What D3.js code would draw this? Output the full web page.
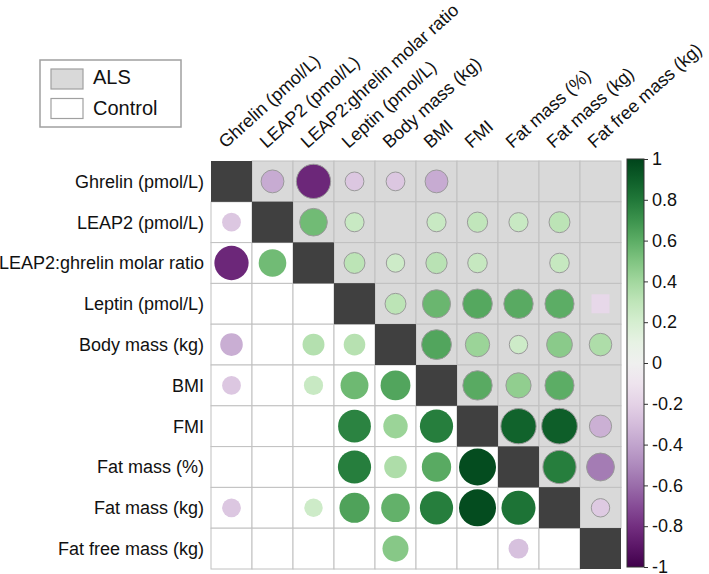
<!DOCTYPE html>
<html>
<head>
<meta charset="utf-8">
<script src="https://cdn.jsdelivr.net/npm/d3@7"></script>
<style>
  html, body { margin: 0; padding: 0; background: #fff; }
  svg { display: block; font-family: "Liberation Sans", Arial, sans-serif; }
</style>
</head>
<body>
<svg id="chart" width="709" height="574"></svg>
<script>
// ---- data ----
const variables = [
  "Ghrelin (pmol/L)", "LEAP2 (pmol/L)", "LEAP2:ghrelin molar ratio",
  "Leptin (pmol/L)", "Body mass (kg)", "BMI", "FMI",
  "Fat mass (%)", "Fat mass (kg)", "Fat free mass (kg)"
];
// upper triangle = ALS, lower triangle = Control; null = not shown
const corrRow0 = [1, -0.37, -0.83, -0.25, -0.25, -0.37, null, null, null, null];
const corrRow1 = [-0.25, 1, 0.54, 0.26, null, 0.26, 0.29, 0.26, 0.31, null];
const corrRow2 = [-0.83, 0.54, 1, 0.31, 0.24, 0.32, 0.27, null, 0.27, null];
const corrRow3 = [null, null, null, 1, 0.31, 0.56, 0.62, 0.61, 0.60, -0.17];
const corrRow4 = [-0.36, null, 0.34, 0.33, 1, 0.63, 0.42, 0.24, 0.47, 0.36];
const corrRow5 = [-0.25, null, 0.26, 0.55, 0.63, 1, 0.61, 0.45, 0.60, null];
const corrRow6 = [null, null, null, 0.76, 0.42, 0.78, 1, 0.88, 0.90, -0.35];
const corrRow7 = [null, null, null, 0.78, 0.36, 0.61, 0.97, 1, 0.78, -0.55];
const corrRow8 = [-0.25, null, 0.24, 0.64, 0.58, 0.78, 0.97, 0.82, 1, -0.24];
const corrRow9 = [null, null, null, null, 0.48, null, null, -0.28, null, 1];
const corrMatrix = [corrRow0, corrRow1, corrRow2, corrRow3, corrRow4,
                    corrRow5, corrRow6, corrRow7, corrRow8, corrRow9];
// cells drawn with a square marker instead of a circle [row, col]
const squareCells = [[3, 9]];
const colorTicks = [1, 0.8, 0.6, 0.4, 0.2, 0, -0.2, -0.4, -0.6, -0.8, -1];
const legendItems = ["ALS", "Control"];

// ---- layout ----
const svg = d3.select("#chart");
const gridLeft = 211, gridRight = 621, gridTop = 161, gridBottom = 569;

const x = d3.scaleBand().domain(variables).range([gridLeft, gridRight]);
const y = d3.scaleBand().domain(variables).range([gridTop, gridBottom]);
const color = v => d3.interpolatePRGn((v + 1) / 2);
const radius = d3.scaleSqrt().domain([0, 1]).range([0, 18.8]);

const cells = [];
corrMatrix.forEach((row, i) => row.forEach((v, j) => {
  cells.push({ i, j, v, row: variables[i], col: variables[j] });
}));

// cell backgrounds
svg.append("g").selectAll("rect")
  .data(cells)
  .join("rect")
  .attr("x", d => x(d.col))
  .attr("y", d => y(d.row))
  .attr("width", x.bandwidth())
  .attr("height", y.bandwidth())
  .attr("fill", d => d.i === d.j ? "#404040" : (d.j > d.i ? "#d9d9d9" : "#ffffff"))
  .attr("stroke", d => d.i === d.j ? "none" : "#c0c0c0")
  .attr("stroke-width", 1);

// redraw diagonal on top so grid lines don't cross it
svg.append("g").selectAll("rect")
  .data(cells.filter(d => d.i === d.j))
  .join("rect")
  .attr("x", d => x(d.col))
  .attr("y", d => y(d.row))
  .attr("width", x.bandwidth())
  .attr("height", y.bandwidth())
  .attr("fill", "#404040");

const isSquare = d => squareCells.some(s => s[0] === d.i && s[1] === d.j);
const marks = cells.filter(d => d.i !== d.j && d.v !== null);

// circles
svg.append("g").selectAll("circle")
  .data(marks.filter(d => !isSquare(d)))
  .join("circle")
  .attr("cx", d => x(d.col) + x.bandwidth() / 2)
  .attr("cy", d => y(d.row) + y.bandwidth() / 2)
  .attr("r", d => radius(Math.abs(d.v)))
  .attr("fill", d => color(d.v))
  .attr("stroke", d => d.j > d.i ? "#9a9a9a" : "none")
  .attr("stroke-width", 1);

// square markers
svg.append("g").selectAll("rect")
  .data(marks.filter(isSquare))
  .join("rect")
  .attr("x", d => x(d.col) + x.bandwidth() / 2 - 9)
  .attr("y", d => y(d.row) + y.bandwidth() / 2 - 9.5)
  .attr("width", 18)
  .attr("height", 19)
  .attr("fill", d => color(d.v));

// row labels
svg.append("g").selectAll("text")
  .data(variables)
  .join("text")
  .attr("x", gridLeft - 7)
  .attr("y", d => y(d) + y.bandwidth() / 2)
  .attr("dy", "0.35em")
  .attr("text-anchor", "end")
  .attr("font-size", 18)
  .attr("fill", "#111")
  .text(d => d);

// column labels
svg.append("g").selectAll("text")
  .data(variables)
  .join("text")
  .attr("transform", d => `translate(${x(d) + x.bandwidth() / 2 - 6},149) rotate(-42)`)
  .attr("text-anchor", "start")
  .attr("font-size", 18)
  .attr("fill", "#111")
  .text(d => d);

// colour bar
const barX = 627, barW = 17, barTop = 159, barBottom = 567;
const defs = svg.append("defs");
const grad = defs.append("linearGradient")
  .attr("id", "cbar").attr("x1", 0).attr("y1", 1).attr("x2", 0).attr("y2", 0);
d3.range(0, 1.0001, 0.05).forEach(t => {
  grad.append("stop").attr("offset", t).attr("stop-color", d3.interpolatePRGn(t));
});
svg.append("rect")
  .attr("x", barX).attr("y", barTop)
  .attr("width", barW).attr("height", barBottom - barTop)
  .attr("fill", "url(#cbar)")
  .attr("stroke", "#333").attr("stroke-width", 1);

const cy = d3.scaleLinear().domain([-1, 1]).range([barBottom, barTop]);
const axis = d3.axisRight(cy).tickValues(colorTicks).tickSize(4).tickPadding(4)
  .tickFormat(d => d === 0 ? "0" : String(d));
const ag = svg.append("g").attr("transform", `translate(${barX + barW},0)`).call(axis);
ag.select(".domain").remove();
ag.selectAll(".tick line").attr("stroke", "#333");
ag.selectAll(".tick text").attr("font-size", 18).attr("fill", "#111")
  .attr("font-family", "Liberation Sans, Arial, sans-serif");

// legend
const lg = svg.append("g");
lg.append("rect").attr("x", 40).attr("y", 60).attr("width", 141).attr("height", 67)
  .attr("fill", "#fff").attr("stroke", "#a0a0a0").attr("stroke-width", 1.5);
lg.selectAll("rect.sw")
  .data(legendItems)
  .join("rect").attr("class", "sw")
  .attr("x", 51).attr("y", (d, i) => 69 + i * 29.5)
  .attr("width", 32).attr("height", 20)
  .attr("fill", (d, i) => i === 0 ? "#d9d9d9" : "#fff")
  .attr("stroke", "#a0a0a0").attr("stroke-width", 1.2);
lg.selectAll("text")
  .data(legendItems)
  .join("text")
  .attr("x", 93).attr("y", (d, i) => 84 + i * 31)
  .attr("font-size", 20).attr("fill", "#111")
  .text(d => d);
</script>
</body>
</html>
